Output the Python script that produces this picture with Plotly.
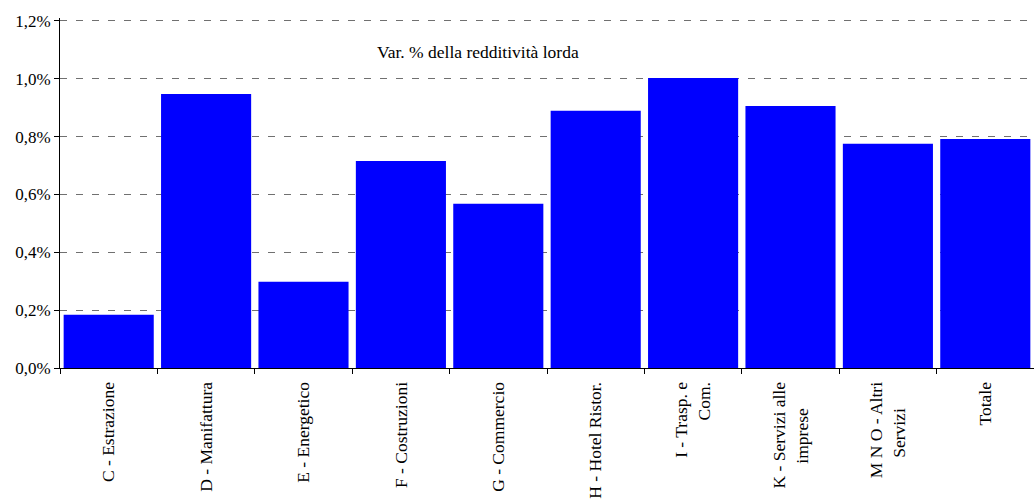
import plotly.graph_objects as go

# Settori e variazione % della redditività lorda
NB = "\u00a0"
categories = [
    "C - Estrazione",
    "D - Manifattura",
    "E - Energetico",
    "F - Costruzioni",
    "G - Commercio",
    "H - Hotel Ristor.",
    "I - Trasp. e<br>Com.",
    "K - Servizi alle<br>imprese" + NB * 6,
    "M N O - Altri<br>Servizi" + NB * 6,
    "Totale",
]
values = [0.184, 0.947, 0.298, 0.716, 0.568, 0.889, 1.003, 0.906, 0.775, 0.792]

y_ticks = [0.0, 0.2, 0.4, 0.6, 0.8, 1.0, 1.2]
y_tick_labels = [f"{v:.1f}%".replace(".", ",") for v in y_ticks]

FONT = "Liberation Serif"

fig = go.Figure(
    go.Bar(
        x=categories,
        y=values,
        marker=dict(color="#0000FF", line=dict(width=0)),
        hoverinfo="x+y",
    )
)

fig.update_layout(
    width=1034,
    height=500,
    margin=dict(l=60, r=0, t=18, b=132, pad=0),
    paper_bgcolor="white",
    plot_bgcolor="white",
    bargap=0.075,
    showlegend=False,
    font=dict(family=FONT, size=17, color="black"),
    annotations=[
        dict(
            text="Var. % della redditività lorda",
            xref="paper", yref="paper",
            x=0.429, y=0.903,
            xanchor="center", yanchor="middle",
            showarrow=False,
            font=dict(family=FONT, size=17.5, color="black"),
        )
    ],
)

fig.update_yaxes(
    range=[0, 1.21],
    tickvals=y_ticks,
    ticktext=y_tick_labels,
    showgrid=True,
    gridcolor="#707070",
    gridwidth=1.3,
    griddash="7px,9px",
    showline=True,
    linecolor="black",
    linewidth=1,
    ticks="outside",
    ticklen=5,
    tickcolor="black",
    zeroline=False,
    tickfont=dict(family=FONT, size=17),
)

fig.update_xaxes(
    type="category",
    tickangle=-90,
    tickson="boundaries",
    ticks="outside",
    ticklen=5,
    tickcolor="black",
    showline=True,
    linecolor="black",
    linewidth=1,
    showgrid=False,
    ticklabelstandoff=6,
    tickfont=dict(family=FONT, size=17.5),
)

fig.write_html("out.html")
